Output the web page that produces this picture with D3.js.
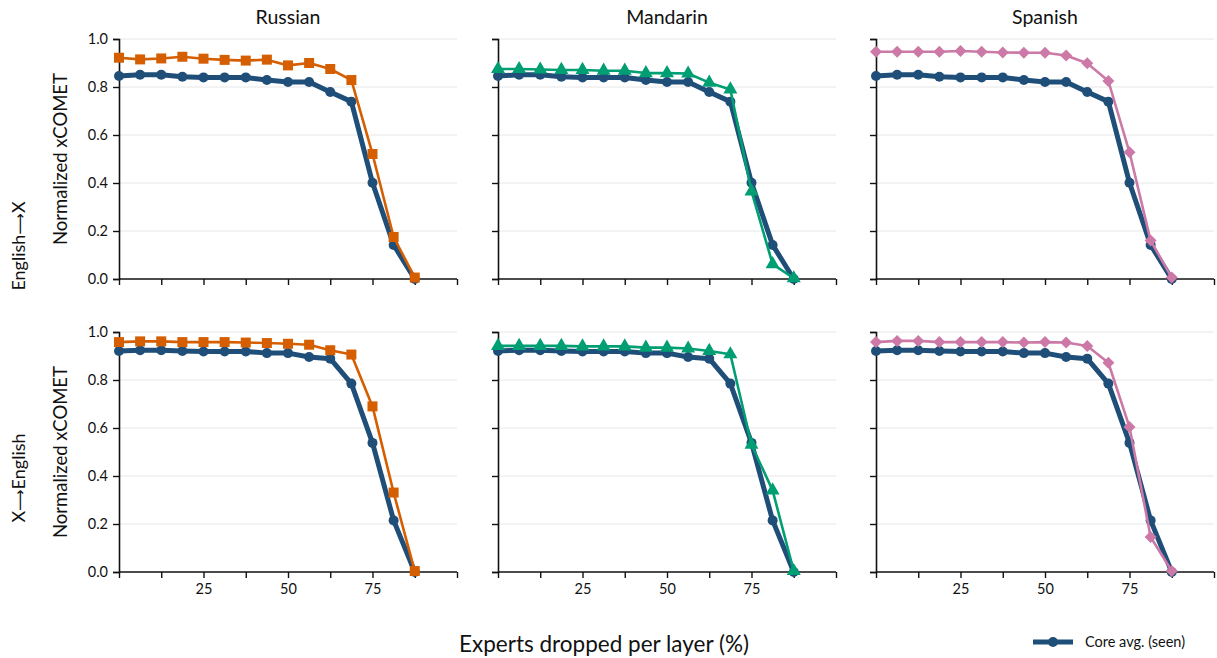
<!DOCTYPE html>
<html>
<head>
<meta charset="utf-8">
<script src="https://cdn.jsdelivr.net/npm/d3@7"></script>
<style>
  body { margin: 0; background: #fff; }
  svg text { font-family: Lato, "DejaVu Sans", sans-serif; fill: #111; }
</style>
</head>
<body>
<svg id="chart" width="1217" height="658"></svg>
<script>
// --- DATA ---
const dropped = [0, 6.25, 12.5, 18.75, 25, 31.25, 37.5, 43.75, 50, 56.25, 62.5, 68.75, 75, 81.25, 87.5];
const languages = ["Russian", "Mandarin", "Spanish"];
const directions = [["English", "X"], ["X", "English"]];
const yTicks = [0, 0.2, 0.4, 0.6, 0.8, 1.0];
const xTicks = [0, 12.5, 25, 37.5, 50, 62.5, 75, 87.5, 100];
const xTickLabels = [25, 50, 75];

// core average (seen) per direction
const coreAvgEnX = [0.846, 0.851, 0.851, 0.843, 0.840, 0.840, 0.840, 0.829, 0.821, 0.821, 0.779, 0.739, 0.401, 0.142, 0.0];
const coreAvgXEn = [0.921, 0.924, 0.924, 0.921, 0.919, 0.919, 0.919, 0.912, 0.912, 0.896, 0.889, 0.785, 0.538, 0.215, 0.0];

// English -> X
const russianEnX = [0.922, 0.915, 0.919, 0.926, 0.918, 0.913, 0.910, 0.914, 0.890, 0.900, 0.875, 0.829, 0.521, 0.175, 0.006];
const mandarinEnX = [0.875, 0.875, 0.873, 0.871, 0.871, 0.868, 0.868, 0.858, 0.858, 0.856, 0.818, 0.790, 0.365, 0.062, 0.003];
const spanishEnX = [0.947, 0.947, 0.947, 0.947, 0.950, 0.947, 0.944, 0.943, 0.943, 0.931, 0.899, 0.825, 0.528, 0.160, 0.006];

// X -> English
const russianXEn = [0.958, 0.961, 0.961, 0.958, 0.958, 0.958, 0.956, 0.954, 0.951, 0.947, 0.924, 0.906, 0.690, 0.331, 0.004];
const mandarinXEn = [0.942, 0.942, 0.942, 0.942, 0.940, 0.940, 0.940, 0.935, 0.935, 0.931, 0.921, 0.907, 0.530, 0.340, 0.004];
const spanishXEn = [0.958, 0.963, 0.963, 0.958, 0.958, 0.958, 0.958, 0.956, 0.958, 0.956, 0.942, 0.872, 0.604, 0.146, 0.004];

const langSeries = [
    [russianEnX, mandarinEnX, spanishEnX],
    [russianXEn, mandarinXEn, spanishXEn]
];
const coreSeries = [coreAvgEnX, coreAvgXEn];

// --- STYLE ---
const coreColor = "#1f4e79";
const langColors = ["#d55e00", "#009e73", "#cc79a7"];
const langSymbols = [
    d3.symbol().type(d3.symbolSquare).size(100),
    d3.symbol().type(d3.symbolTriangle).size(85),
    d3.symbol().type(d3.symbolSquare).size(72)
];
const langRotate = [0, 0, 45];

const svg = d3.select("#chart");
const colX = [119, 498, 876];
const rowY = [39, 332];
const panelW = 338;
const panelH = 240;

const x = d3.scaleLinear().domain([0, 100]).range([0, panelW]);
const y = d3.scaleLinear().domain([0, 1]).range([panelH, 0]);

const line = d3.line()
    .x((d, i) => x(dropped[i]))
    .y(d => y(d));

directions.forEach((dir, r) => {
    languages.forEach((lang, c) => {
        const g = svg.append("g")
            .attr("transform", `translate(${colX[c]}, ${rowY[r]})`);

        // grid
        g.append("g")
            .selectAll("line")
            .data(yTicks.filter(t => t > 0))
            .join("line")
            .attr("x1", 0).attr("x2", panelW)
            .attr("y1", d => y(d)).attr("y2", d => y(d))
            .attr("stroke", "#e6e6e6")
            .attr("stroke-width", 1);

        // y axis
        const yAxis = g.append("g")
            .call(d3.axisLeft(y).tickValues(yTicks).tickSize(6).tickPadding(5)
                .tickFormat(c === 0 ? d3.format(".1f") : ""));
        yAxis.select(".domain").attr("stroke", "#111").attr("stroke-width", 1.6);
        yAxis.selectAll(".tick line").attr("stroke", "#111").attr("stroke-width", 1.4);
        yAxis.selectAll("text").attr("font-size", 14.5).style("font-family", "Lato, sans-serif").attr("fill", "#111");

        // x axis
        const xAxis = g.append("g")
            .attr("transform", `translate(0, ${panelH})`)
            .call(d3.axisBottom(x).tickValues(xTicks).tickSize(6).tickPadding(6)
                .tickFormat(d => (r === 1 && xTickLabels.includes(d)) ? d : ""));
        xAxis.select(".domain").attr("stroke", "#111").attr("stroke-width", 1.6).attr("d", `M0,0H${panelW}`);
        xAxis.selectAll(".tick line").attr("stroke", "#111").attr("stroke-width", 1.4);
        xAxis.selectAll("text").attr("font-size", 14.5).style("font-family", "Lato, sans-serif").attr("fill", "#111");

        // core avg line
        const core = coreSeries[r];
        g.append("path")
            .datum(core)
            .attr("d", line)
            .attr("fill", "none")
            .attr("stroke", coreColor)
            .attr("stroke-width", 5)
            .attr("stroke-linejoin", "round");
        g.append("g")
            .selectAll("circle")
            .data(core)
            .join("circle")
            .attr("cx", (d, i) => x(dropped[i]))
            .attr("cy", d => y(d))
            .attr("r", 5)
            .attr("fill", coreColor);

        // language line
        const vals = langSeries[r][c];
        g.append("path")
            .datum(vals)
            .attr("d", line)
            .attr("fill", "none")
            .attr("stroke", langColors[c])
            .attr("stroke-width", 2.6)
            .attr("stroke-linejoin", "round");
        g.append("g")
            .selectAll("path")
            .data(vals)
            .join("path")
            .attr("d", langSymbols[c])
            .attr("transform", (d, i) => `translate(${x(dropped[i])}, ${y(d)}) rotate(${langRotate[c]})`)
            .attr("fill", langColors[c]);

        // column titles
        if (r === 0) {
            g.append("text")
                .attr("x", panelW / 2)
                .attr("y", -15)
                .attr("text-anchor", "middle")
                .attr("font-size", 19.5)
                .text(lang);
        }

        // y label
        if (c === 0) {
            g.append("text")
                .attr("transform", `translate(-52, ${panelH / 2}) rotate(-90)`)
                .attr("text-anchor", "middle")
                .attr("font-size", 18.5)
                .text("Normalized xCOMET");
        }
    });
});

// row labels
const rowLabelY = [246, 478];
directions.forEach((dir, r) => {
    const t = svg.append("text")
        .attr("transform", `translate(25, ${rowLabelY[r]}) rotate(-90)`)
        .attr("text-anchor", "middle")
        .attr("font-size", 18);
    t.append("tspan").text(dir[0]);
    t.append("tspan").style("font-family", "'DejaVu Sans'").style("font-size", "15px").text("\u27F6");
    t.append("tspan").text(dir[1]);
});

// x label
svg.append("text")
    .attr("x", 604)
    .attr("y", 652)
    .attr("text-anchor", "middle")
    .attr("font-size", 22.5)
    .text("Experts dropped per layer (%)");

// legend
const legend = svg.append("g").attr("transform", "translate(1033, 642)");
legend.append("line")
    .attr("x1", 0).attr("x2", 40)
    .attr("stroke", coreColor).attr("stroke-width", 5);
legend.append("circle")
    .attr("cx", 20).attr("r", 5).attr("fill", coreColor);
legend.append("text")
    .attr("x", 52).attr("y", 5)
    .attr("font-size", 14.5)
    .text("Core avg. (seen)");
</script>
</body>
</html>
